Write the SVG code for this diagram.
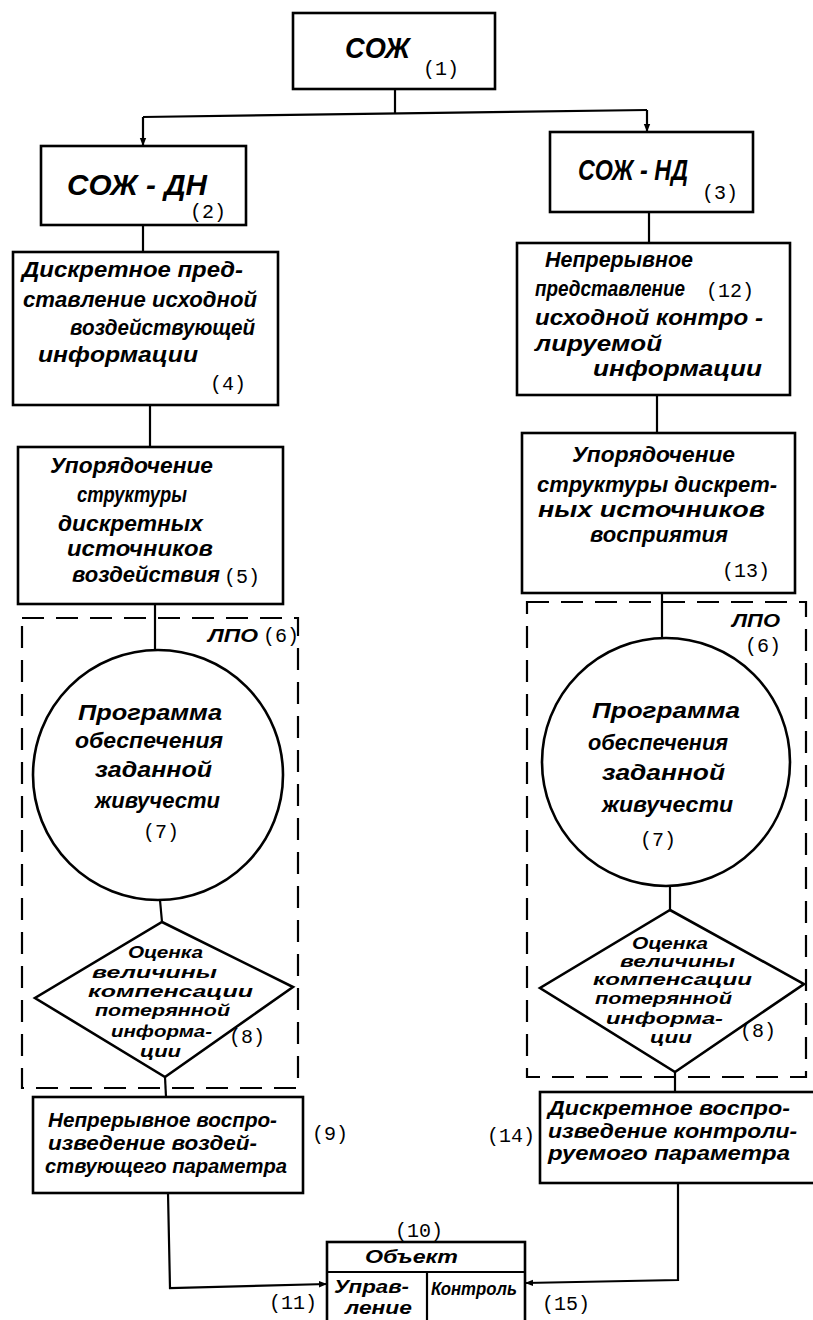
<svg xmlns="http://www.w3.org/2000/svg" width="813" height="1320" viewBox="0 0 813 1320">
<defs>
<style>
.b{fill:#fff;stroke:#000;stroke-width:2.6}
.c{fill:none;stroke:#000;stroke-width:2.2}
.d{fill:none;stroke:#000;stroke-width:2.2;stroke-dasharray:22 12}
text{font-family:"Liberation Sans",Arial,sans-serif;font-style:italic;font-weight:bold;fill:#000}
.t{font-size:22px}
.s{font-size:18px}
.r{font-size:16px}
.m{font-size:20px}
.h{font-size:30px}
.n{font-family:"Liberation Mono","Courier New",monospace;font-style:normal;font-weight:normal;font-size:20px}
</style>
<marker id="ar" viewBox="0 0 10 10" refX="10" refY="5" markerWidth="8" markerHeight="8" orient="auto-start-reverse" markerUnits="userSpaceOnUse">
<path d="M0,1 L10,5 L0,9 z" fill="#000"/>
</marker>
</defs>
<rect width="813" height="1320" fill="#fff"/>

<g id="connectors">
<polyline class="c" points="395,89 395,114"/>
<polyline class="c" points="143,117 647,110"/>
<polyline class="c" points="143,117 143,146" marker-end="url(#ar)"/>
<polyline class="c" points="647,110 647,132" marker-end="url(#ar)"/>
<line class="c" x1="143" y1="225" x2="143" y2="252"/>
<line class="c" x1="649" y1="212" x2="649" y2="243"/>
<line class="c" x1="150" y1="405" x2="150" y2="447"/>
<line class="c" x1="657" y1="395" x2="657" y2="433"/>
<line class="c" x1="155" y1="604" x2="155" y2="650"/>
<line class="c" x1="662" y1="593" x2="662" y2="638"/>
<line class="c" x1="160" y1="900" x2="162" y2="922"/>
<line class="c" x1="670" y1="886" x2="670" y2="910"/>
<line class="c" x1="165" y1="1077" x2="166" y2="1097"/>
<line class="c" x1="675" y1="1072" x2="675" y2="1092"/>
<polyline class="c" points="168,1193 170,1288 327,1284" marker-end="url(#ar)"/>
<polyline class="c" points="678,1183 678,1280 525,1283" marker-end="url(#ar)"/>
</g>

<g id="group-lpo-left">
<rect class="d" x="22" y="618" width="276" height="470"/>
<text class="s" x="208" y="642" textLength="50" lengthAdjust="spacingAndGlyphs">ЛПО</text>
<text class="n" x="263" y="642">(6)</text>
</g>
<g id="group-lpo-right">
<rect class="d" x="527" y="602" width="279" height="475"/>
<text class="s" x="732" y="627" textLength="48" lengthAdjust="spacingAndGlyphs">ЛПО</text>
<text class="n" x="745" y="652">(6)</text>
</g>

<g id="n1">
<rect class="b" x="293" y="13" width="202" height="76"/>
<text class="h" x="345" y="58" textLength="65" lengthAdjust="spacingAndGlyphs">СОЖ</text>
<text class="n" x="423" y="75">(1)</text>
</g>

<g id="n2">
<rect class="b" x="41" y="146" width="205" height="79"/>
<text class="h" x="67" y="195" textLength="140" lengthAdjust="spacingAndGlyphs">СОЖ - ДН</text>
<text class="n" x="190" y="218">(2)</text>
</g>

<g id="n3">
<rect class="b" x="550" y="132" width="203" height="80"/>
<text class="h" x="578" y="180" textLength="110" lengthAdjust="spacingAndGlyphs">СОЖ - НД</text>
<text class="n" x="702" y="199">(3)</text>
</g>

<g id="n4">
<rect class="b" x="13" y="252" width="265" height="153"/>
<text class="t" x="22" y="277" textLength="221" lengthAdjust="spacingAndGlyphs">Дискретное пред-</text>
<text class="t" x="23" y="307" textLength="234" lengthAdjust="spacingAndGlyphs">ставление исходной</text>
<text class="t" x="70" y="335" textLength="185" lengthAdjust="spacingAndGlyphs">воздействующей</text>
<text class="t" x="38" y="362" textLength="160" lengthAdjust="spacingAndGlyphs">информации</text>
<text class="n" x="210" y="390">(4)</text>
</g>

<g id="n5">
<rect class="b" x="18" y="447" width="265" height="157"/>
<text class="t" x="50" y="473" textLength="163" lengthAdjust="spacingAndGlyphs">Упорядочение</text>
<text class="t" x="77" y="502" textLength="110" lengthAdjust="spacingAndGlyphs">структуры</text>
<text class="t" x="58" y="531" textLength="145" lengthAdjust="spacingAndGlyphs">дискретных</text>
<text class="t" x="67" y="556" textLength="146" lengthAdjust="spacingAndGlyphs">источников</text>
<text class="t" x="72" y="582" textLength="148" lengthAdjust="spacingAndGlyphs">воздействия</text>
<text class="n" x="224" y="583">(5)</text>
</g>

<g id="n7-left">
<circle class="b" cx="158" cy="775" r="125"/>
<text class="t" x="78" y="720" textLength="144" lengthAdjust="spacingAndGlyphs">Программа</text>
<text class="t" x="75" y="748" textLength="148" lengthAdjust="spacingAndGlyphs">обеспечения</text>
<text class="t" x="95" y="777" textLength="117" lengthAdjust="spacingAndGlyphs">заданной</text>
<text class="t" x="95" y="808" textLength="125" lengthAdjust="spacingAndGlyphs">живучести</text>
<text class="n" x="143" y="838">(7)</text>
</g>

<g id="n8-left">
<polygon class="b" points="162,922 293,987 165,1077 35,998"/>
<text class="r" x="128" y="958" textLength="75" lengthAdjust="spacingAndGlyphs">Оценка</text>
<text class="r" x="92" y="978" textLength="125" lengthAdjust="spacingAndGlyphs">величины</text>
<text class="r" x="88" y="997" textLength="165" lengthAdjust="spacingAndGlyphs">компенсации</text>
<text class="r" x="95" y="1016" textLength="135" lengthAdjust="spacingAndGlyphs">потерянной</text>
<text class="r" x="111" y="1037" textLength="101" lengthAdjust="spacingAndGlyphs">информа-</text>
<text class="r" x="140" y="1057" textLength="41" lengthAdjust="spacingAndGlyphs">ции</text>
<text class="n" x="229" y="1043">(8)</text>
</g>

<g id="n9">
<rect class="b" x="33" y="1097" width="270" height="96"/>
<text class="m" x="48" y="1127" textLength="229" lengthAdjust="spacingAndGlyphs">Непрерывное воспро-</text>
<text class="m" x="48" y="1150" textLength="209" lengthAdjust="spacingAndGlyphs">изведение воздей-</text>
<text class="m" x="45" y="1173" textLength="242" lengthAdjust="spacingAndGlyphs">ствующего параметра</text>
<text class="n" x="312" y="1140">(9)</text>
</g>

<g id="n12">
<rect class="b" x="517" y="243" width="273" height="152"/>
<text class="t" x="545" y="267" textLength="148" lengthAdjust="spacingAndGlyphs">Непрерывное</text>
<text class="t" x="535" y="296" textLength="150" lengthAdjust="spacingAndGlyphs">представление</text>
<text class="n" x="706" y="297" font-size="21">(12)</text>
<text class="t" x="535" y="325" textLength="228" lengthAdjust="spacingAndGlyphs">исходной контро -</text>
<text class="t" x="535" y="351" textLength="127" lengthAdjust="spacingAndGlyphs">лируемой</text>
<text class="t" x="593" y="376" textLength="169" lengthAdjust="spacingAndGlyphs">информации</text>
</g>

<g id="n13">
<rect class="b" x="522" y="433" width="273" height="160"/>
<text class="t" x="572" y="462" textLength="163" lengthAdjust="spacingAndGlyphs">Упорядочение</text>
<text class="t" x="537" y="492" textLength="240" lengthAdjust="spacingAndGlyphs">структуры дискрет-</text>
<text class="t" x="538" y="517" textLength="227" lengthAdjust="spacingAndGlyphs">ных источников</text>
<text class="t" x="590" y="542" textLength="138" lengthAdjust="spacingAndGlyphs">восприятия</text>
<text class="n" x="722" y="577" font-size="22">(13)</text>
</g>

<g id="n7-right">
<circle class="b" cx="666" cy="762" r="124"/>
<text class="t" x="592" y="718" textLength="148" lengthAdjust="spacingAndGlyphs">Программа</text>
<text class="t" x="588" y="750" textLength="140" lengthAdjust="spacingAndGlyphs">обеспечения</text>
<text class="t" x="602" y="780" textLength="123" lengthAdjust="spacingAndGlyphs">заданной</text>
<text class="t" x="602" y="812" textLength="131" lengthAdjust="spacingAndGlyphs">живучести</text>
<text class="n" x="640" y="846">(7)</text>
</g>

<g id="n8-right">
<polygon class="b" points="670,910 804,984 675,1072 540,988"/>
<text class="r" x="632" y="949" textLength="76" lengthAdjust="spacingAndGlyphs">Оценка</text>
<text class="r" x="620" y="967" textLength="115" lengthAdjust="spacingAndGlyphs">величины</text>
<text class="r" x="593" y="985" textLength="159" lengthAdjust="spacingAndGlyphs">компенсации</text>
<text class="r" x="595" y="1004" textLength="137" lengthAdjust="spacingAndGlyphs">потерянной</text>
<text class="r" x="606" y="1024" textLength="117" lengthAdjust="spacingAndGlyphs">информа-</text>
<text class="r" x="650" y="1043" textLength="42" lengthAdjust="spacingAndGlyphs">ции</text>
<text class="n" x="740" y="1037">(8)</text>
</g>

<g id="n14">
<rect class="b" x="540" y="1092" width="276" height="91"/>
<text class="m" x="548" y="1115" textLength="242" lengthAdjust="spacingAndGlyphs">Дискретное воспро-</text>
<text class="m" x="548" y="1138" textLength="249" lengthAdjust="spacingAndGlyphs">изведение контроли-</text>
<text class="m" x="548" y="1160" textLength="242" lengthAdjust="spacingAndGlyphs">руемого параметра</text>
<text class="n" x="487" y="1142" font-size="22">(14)</text>
</g>

<g id="n10">
<rect class="b" x="327" y="1242" width="198" height="84"/>
<line class="c" x1="327" y1="1272" x2="525" y2="1272"/>
<line class="c" x1="427" y1="1272" x2="427" y2="1326"/>
<text class="s" x="365" y="1263" textLength="93" lengthAdjust="spacingAndGlyphs">Объект</text>
<text class="s" x="334" y="1293" textLength="75" lengthAdjust="spacingAndGlyphs">Управ-</text>
<text class="s" x="345" y="1314" textLength="67" lengthAdjust="spacingAndGlyphs">ление</text>
<text class="s" x="431" y="1295" textLength="86" lengthAdjust="spacingAndGlyphs" font-size="17">Контроль</text>
<text class="n" x="395" y="1237" font-size="21">(10)</text>
<text class="n" x="269" y="1309" font-size="21">(11)</text>
<text class="n" x="542" y="1310" font-size="21">(15)</text>
</g>
</svg>
